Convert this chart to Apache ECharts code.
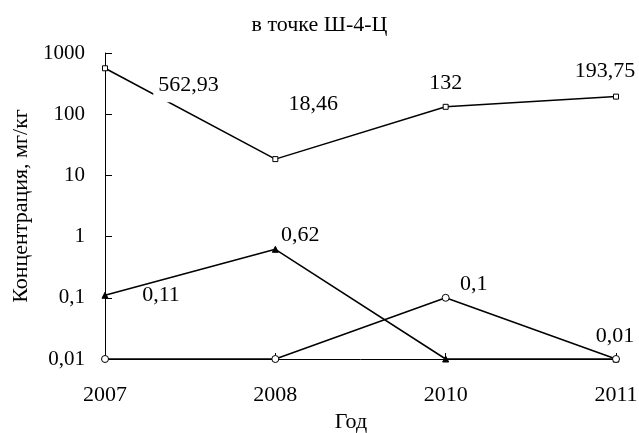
<!DOCTYPE html>
<html>
<head>
<meta charset="utf-8">
<script src="https://cdn.jsdelivr.net/npm/echarts@6/dist/echarts.min.js"></script>
<style>
  html, body { margin: 0; padding: 0; background: #fff; }
  #chart { width: 639px; height: 433px; }
</style>
</head>
<body>
<div id="chart"></div>
<script>
const years = ["2007", "2008", "2010", "2011"]
const squareVals = [562.93, 18.46, 132, 193.75]
const triangleVals = [0.11, 0.62, 0.01, 0.01]
const circleVals = [0.01, 0.01, 0.1, 0.01]
// label offsets from the point, null = no label
const squareLabelOffsets = [[82, 17], [38, -55], [0, -24], [-11, -25]]
const triangleLabelOffsets = [[56, 0], [25, -14], null, null]
const circleLabelOffsets = [null, null, [28, -14], [-1, -23]]

const font = "Liberation Serif"
const comma = v => String(+v.toPrecision(6)).replace(".", ",")

function buildData(vals, offsets, extra) {
  return vals.map((v, i) => {
    const off = offsets[i]
    if (!off) return { value: v, label: { show: false } }
    const label = {
      show: true,
      position: "inside",
      offset: off,
      formatter: p => comma(p.value),
      fontFamily: font,
      fontSize: 22,
      color: "#000"
    }
    // first label in the original hides a bit of the line behind it
    if (extra && extra[i]) Object.assign(label, extra[i])
    return { value: v, label }
  })
}

const chart = echarts.init(document.getElementById("chart"))
chart.setOption({
  backgroundColor: "#fff",
  animation: false,
  title: {
    text: "в точке Ш-4-Ц",
    left: "center",
    top: 9,
    textStyle: { fontFamily: font, fontSize: 22, fontWeight: "normal", color: "#000" }
  },
  grid: { left: 105, right: 23, top: 53, bottom: 74, containLabel: false, outerBoundsMode: "none" },
  xAxis: {
    type: "category",
    data: years,
    boundaryGap: false,
    name: "Год",
    nameLocation: "middle",
    nameGap: 51,
    nameTextStyle: { fontFamily: font, fontSize: 22, color: "#000", padding: [0, 19, 0, 0] },
    axisLine: { lineStyle: { color: "#000", width: 1 } },
    axisTick: { inside: true, length: 6, lineStyle: { color: "#000" } },
    axisLabel: { fontFamily: font, fontSize: 22, color: "#000", margin: 25 },
    splitLine: { show: false }
  },
  yAxis: {
    type: "log",
    logBase: 10,
    min: 0.01,
    max: 1000,
    name: "Концентрация, мг/кг",
    nameLocation: "middle",
    nameGap: 73,
    nameTextStyle: { fontFamily: font, fontSize: 22, color: "#000" },
    axisLine: { show: true, lineStyle: { color: "#000", width: 1 } },
    axisTick: { show: true, inside: true, length: 7, lineStyle: { color: "#000" } },
    axisLabel: { fontFamily: font, fontSize: 21, color: "#000", margin: 20, formatter: v => comma(v) },
    splitLine: { show: false }
  },
  series: [
    {
      type: "line",
      data: buildData(squareVals, squareLabelOffsets, [{ backgroundColor: "#fff", padding: [2, 2, 10, 5] }]),
      symbol: "rect",
      symbolSize: 5,
      lineStyle: { color: "#000", width: 1.5 },
      itemStyle: { color: "#fff", borderColor: "#000", borderWidth: 1 }
    },
    {
      type: "line",
      data: buildData(triangleVals, triangleLabelOffsets),
      symbol: "triangle",
      symbolSize: 6,
      lineStyle: { color: "#000", width: 1.5 },
      itemStyle: { color: "#000", borderColor: "#000", borderWidth: 1 }
    },
    {
      type: "line",
      data: buildData(circleVals, circleLabelOffsets),
      symbol: "circle",
      symbolSize: 7,
      lineStyle: { color: "#000", width: 1.5 },
      itemStyle: { color: "#fff", borderColor: "#000", borderWidth: 1 }
    }
  ]
})
</script>
</body>
</html>
